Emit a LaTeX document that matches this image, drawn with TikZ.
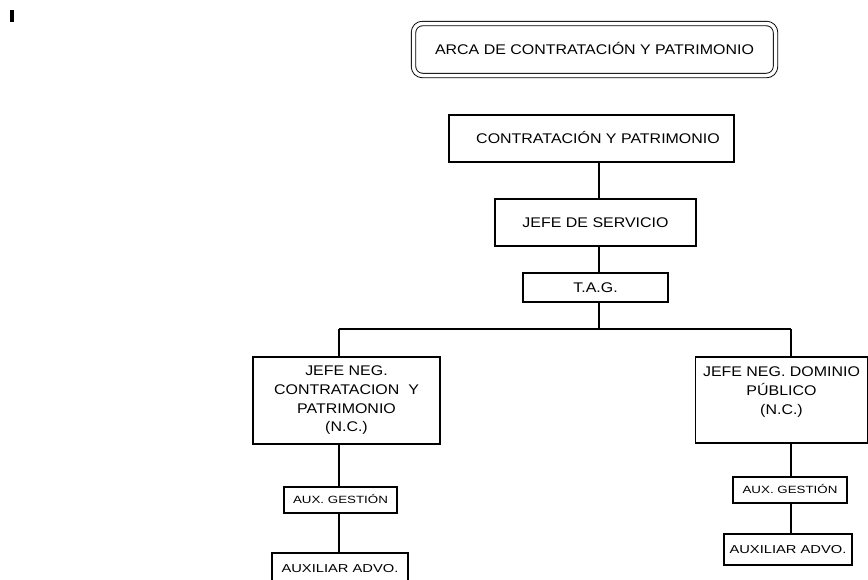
\documentclass[tikz,border=0pt]{standalone}
\usepackage{fontspec}
\setmainfont{Liberation Sans}
\newcommand{\sxa}[1]{\scalebox{1.14}[1]{#1}}
\newcommand{\sxb}[1]{\scalebox{1.27}[1]{#1}}
\newcommand{\sxc}[1]{\scalebox{1.28}[1]{#1}}
\begin{document}
\begin{tikzpicture}[x=1pt,y=-1pt,
  box/.style={draw,line width=1.1pt,inner sep=0pt,align=center},
  big/.style={font=\fontsize{14pt}{18.7pt}\selectfont},
  small/.style={font=\fontsize{10.5pt}{12pt}\selectfont,text height=7.5pt,text depth=0pt},
  smallb/.style={font=\fontsize{11.5pt}{13pt}\selectfont,text height=8.3pt,text depth=0pt},
  one/.style={text height=10pt,text depth=0pt},
  conn/.style={line width=1.1pt}]
\useasboundingbox (0,0) rectangle (868,579);
\clip (0,0) rectangle (868,579);
\fill (10,10) rectangle (13.5,21.5);
\node[box,big,one,rounded corners=9pt,double,double distance=3.5pt,line width=0.9pt,
  minimum width=362pt,minimum height=52pt] (area) at (594.5,49.5) {\sxa{ARCA DE CONTRATACIÓN Y PATRIMONIO}};
\node[box,big,one,minimum width=285pt,minimum height=47pt] (contr) at (591.5,138.5) {\hspace*{13pt}\sxa{CONTRATACIÓN Y PATRIMONIO}};
\node[box,big,one,minimum width=201pt,minimum height=47pt] (jefe) at (595.5,222.5) {\sxa{JEFE DE SERVICIO}};
\node[box,big,one,minimum width=145pt,minimum height=29pt] (tag) at (595.5,287.5) {\sxa{T.A.G.}};
\node[box,big,minimum width=187pt,minimum height=87pt] (jneg) at (346.5,400.5)
  {\sxa{JEFE NEG.}\\\sxa{CONTRATACION\ \ Y}\\\sxa{PATRIMONIO}\\\sxa{(N.C.)}};
\node[box,big,minimum width=172pt,minimum height=86pt] (jdom) at (781.5,400)
  {\sxa{JEFE NEG. DOMINIO}\\\sxa{PÚBLICO}\\\sxa{(N.C.)}\\~};
\node[box,small,minimum width=113pt,minimum height=26pt] (laux) at (340.5,500) {\sxb{AUX. GESTIÓN}};
\node[box,smallb,minimum width=136pt,minimum height=31pt] (ladvo) at (340,568.5) {\sxc{AUXILIAR ADVO.}};
\node[box,small,minimum width=114pt,minimum height=26pt] (raux) at (790,490) {\sxb{AUX. GESTIÓN}};
\node[box,smallb,minimum width=128pt,minimum height=31pt] (radvo) at (788,549.5) {\sxc{AUXILIAR ADVO.}};
\coordinate (spine) at (599,0);
\coordinate (lbus) at (339,329);
\coordinate (rbus) at (791,329);
\draw[conn] (contr.south -| spine) -- (jefe.north -| spine);
\draw[conn] (jefe.south -| spine) -- (tag.north -| spine);
\draw[conn] (tag.south -| spine) -- (spine |- lbus);
\draw[conn] (lbus) -- (rbus);
\draw[conn] (lbus) -- (jneg.north -| lbus);
\draw[conn] (jneg.south -| lbus) -- (laux.north -| lbus);
\draw[conn] (laux.south -| lbus) -- (ladvo.north -| lbus);
\draw[conn] (rbus) -- (jdom.north -| rbus);
\draw[conn] (jdom.south -| rbus) -- (raux.north -| rbus);
\draw[conn] (raux.south -| rbus) -- (radvo.north -| rbus);
\end{tikzpicture}
\end{document}
